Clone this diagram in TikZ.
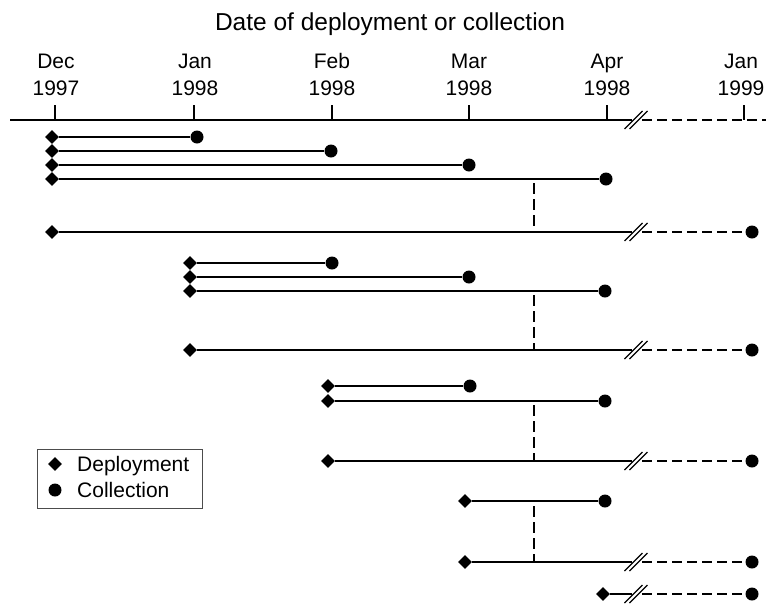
\documentclass[tikz,border=0pt]{standalone}
\usepackage{fontspec}
\setmainfont{Liberation Sans}
\usetikzlibrary{shapes.geometric,calc}
\tikzset{
  deploy/.style={diamond, fill=black, inner sep=0pt, minimum size=14pt},
  collect/.style={circle, fill=black, inner sep=0pt, minimum size=13pt},
  span/.style={line width=1.8pt},
  future/.style={line width=1.8pt, dash pattern=on 10pt off 5pt},
  guide/.style={line width=1.4pt, dash pattern=on 11pt off 5pt},
  brkmark/.style={line width=1.3pt},
  tickmark/.style={line width=1.5pt},
  datelbl/.style={font=\fontsize{21}{26}\selectfont, anchor=base, inner sep=0pt},
  keytext/.style={font=\fontsize{21}{25}\selectfont, anchor=base west, inner sep=0pt},
  keybox/.style={draw=black!70, line width=0.8pt, minimum width=165pt, minimum height=59pt, inner sep=0pt}
}

\begin{document}
\begin{tikzpicture}[x=1pt, y=-1pt]
  \useasboundingbox (0,0) rectangle (766,603);
  \node[font=\fontsize{24.5}{28}\selectfont, anchor=base] (title) at (390,30) {Date of deployment or collection};

  % time axis
  \foreach \n/\x/\lx/\m/\yr in {dec/55/56/Dec/1997, jan/194/195/Jan/1998, feb/332/332/Feb/1998,
                                mar/469/469/Mar/1998, apr/607/607/Apr/1998, nxt/744/741/Jan/1999} {
    \node[datelbl] (m\n) at (\lx,68) {\m};
    \node[datelbl] (y\n) at (\lx,95) {\yr};
    \draw[tickmark] (\x,105) -- (\x,120);
  }
  \coordinate (axL) at (10,120);
  \coordinate (axB) at (636,120);
  \coordinate (axR) at (766,120);
  \draw[span] (axL) -- ([xshift=-4pt]axB);
  \draw[future] ([xshift=6pt]axB) -- (axR);

  % collected within the season
  \foreach \n/\y/\xd/\xc in {1/137/52/197, 2/151/52/331, 3/165/52/469, 4/179/52/606,
                             6/263/190/332, 7/277/190/469, 8/291/190/605,
                             10/386/328/470, 11/401/328/605, 13/501/465/605} {
    \node[deploy] (d\n) at (\xd,\y) {};
    \node[collect] (c\n) at (\xc,\y) {};
    \draw[span] (d\n) -- (c\n);
  }

  % collected a year later
  \foreach \n/\y/\xd in {5/232/52, 9/350/190, 12/461/328, 14/562/465, 15/594/603} {
    \node[deploy] (d\n) at (\xd,\y) {};
    \node[collect] (c\n) at (752,\y) {};
    \coordinate (b\n) at (636,\y);
    \draw[span] (d\n) -- ([xshift=-4pt]b\n);
    \draw[future] ([xshift=6pt]b\n) -- (c\n);
  }

  % axis breaks
  \foreach \bk in {axB, b5, b9, b12, b14, b15} {
    \draw[brkmark] ($(\bk)+(-11.5,9)$) -- ($(\bk)+(6.5,-9)$);
    \draw[brkmark] ($(\bk)+(-6.5,9)$) -- ($(\bk)+(11.5,-9)$);
  }

  % group separators
  \foreach \n/\ya/\yb in {1/183/232, 2/295/350, 3/405/461, 4/506/562} {
    \coordinate (up\n) at (534,\ya);
    \coordinate (lo\n) at (534,\yb);
    \draw[guide] (up\n) -- (lo\n);
  }

  % legend
  \node[keybox] (key) at (119.5,478.5) {};
  \node[deploy] (kd) at (55,464) {};
  \node[collect] (kc) at (55,490) {};
  \node[keytext] (kdt) at (77,471) {Deployment};
  \node[keytext] (kct) at (77,497) {Collection};
\end{tikzpicture}
\end{document}
